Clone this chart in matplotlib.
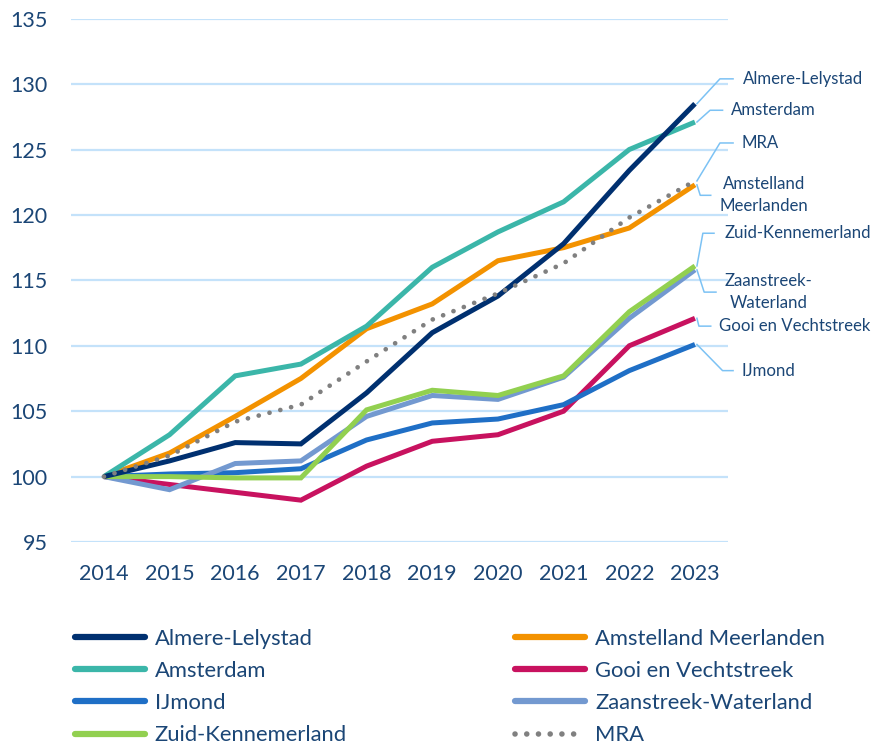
import numpy as np
import matplotlib.pyplot as plt
from matplotlib.lines import Line2D

plt.rcParams['font.family'] = ['Lato', 'DejaVu Sans']

years = [2014, 2015, 2016, 2017, 2018, 2019, 2020, 2021, 2022, 2023]

almere = [100, 101.2, 102.6, 102.5, 106.4, 111.0, 113.8, 117.8, 123.4, 128.5]
amsterdam = [100, 103.2, 107.7, 108.6, 111.5, 116.0, 118.7, 121.0, 125.0, 127.1]
amstelland = [100, 101.8, 104.6, 107.5, 111.3, 113.2, 116.5, 117.5, 119.0, 122.3]
gooi = [100, 99.4, 98.8, 98.2, 100.8, 102.7, 103.2, 105.0, 110.0, 112.1]
ijmond = [100, 100.2, 100.3, 100.6, 102.8, 104.1, 104.4, 105.5, 108.1, 110.1]
zaanstreek = [100, 99.0, 101.0, 101.2, 104.6, 106.2, 105.9, 107.6, 112.1, 115.8]
zuidk = [100, 100.0, 99.9, 99.9, 105.1, 106.6, 106.2, 107.7, 112.6, 116.1]
mra = [100, 101.6, 104.2, 105.5, 108.8, 112.0, 114.0, 116.3, 119.8, 122.6]

txt = '#1b4676'
lead = '#7cc2f4'
dots = (0, (0.01, 2.35))

fig = plt.figure(figsize=(8.79, 7.47), dpi=100)
ax = fig.add_axes([0.0808, 0.2744, 0.7472, 0.7006])

lw = 3.6
series = [
    ('Almere-Lelystad', almere, '#003070'),
    ('Amstelland Meerlanden', amstelland, '#f39200'),
    ('Amsterdam', amsterdam, '#3bb6a9'),
    ('Gooi en Vechtstreek', gooi, '#c8125f'),
    ('IJmond', ijmond, '#1f6fc6'),
    ('Zaanstreek-Waterland', zaanstreek, '#7399d0'),
    ('Zuid-Kennemerland', zuidk, '#92d050'),
]
colors = {s[0]: s[2] for s in series}
colors['MRA'] = '#808080'
# volgorde van tekenen zoals in origineel
order = ['Gooi en Vechtstreek', 'IJmond', 'Zaanstreek-Waterland', 'Zuid-Kennemerland',
         'Amstelland Meerlanden', 'Amsterdam', 'Almere-Lelystad']
lookup = {s[0]: s for s in series}
for name in order:
    n, vals, c = lookup[name]
    ax.plot(years, vals, color=c, lw=lw, solid_capstyle='butt', solid_joinstyle='miter')
ax.plot(years, mra, color=colors['MRA'], lw=3.4, linestyle=dots, dash_capstyle='round')

ax.set_xlim(2013.5, 2023.5)
ax.set_ylim(95, 135)
ax.set_yticks(range(95, 136, 5))
ax.set_xticks(years)
ax.grid(axis='y', color='#c4e2fa', lw=1.6)
ax.set_axisbelow(True)
for s in ax.spines.values():
    s.set_visible(False)
ax.tick_params(length=0, labelsize=15.5, labelcolor=txt)
ax.tick_params(axis='y', pad=17)
ax.tick_params(axis='x', pad=16)

# labels met aanwijslijnen rechts
labels = [
    ('Almere-Lelystad', 128.5, 0.38, 130.4, 0.58, 0.73),
    ('Amsterdam', 127.1, 0.23, 128.0, 0.42, 0.55),
    ('MRA', 122.6, 0.38, 125.5, 0.58, 0.71),
    ('Amstelland\nMeerlanden', 122.3, 0.08, 121.5, 0.24, 0.38),
    ('Zuid-Kennemerland', 116.1, 0.12, 118.6, 0.29, 0.45),
    ('Zaanstreek-\nWaterland', 115.8, 0.14, 114.1, 0.32, 0.45),
    ('Gooi en Vechtstreek', 112.1, 0.06, 111.5, 0.24, 0.36),
    ('IJmond', 110.1, 0.42, 108.1, 0.58, 0.71),
]
for text, yend, kx, ky, hx, tx in labels:
    ax.plot([2023.03, 2023 + kx, 2023 + hx], [yend, ky, ky], color=lead, lw=1.1,
            clip_on=False, zorder=5)
    ax.text(2023 + tx, ky, text, color=txt, fontsize=12.1, ha='left', va='center',
            multialignment='center', linespacing=1.45, clip_on=False)

col1 = ['Almere-Lelystad', 'Amsterdam', 'IJmond', 'Zuid-Kennemerland']
col2 = ['Amstelland Meerlanden', 'Gooi en Vechtstreek', 'Zaanstreek-Waterland', 'MRA']
for cols, xpos in [(col1, 0.085), (col2, 0.586)]:
    hs = []
    for n in cols:
        if n == 'MRA':
            hs.append(Line2D([], [], color=colors[n], lw=4, linestyle=(0, (0.01, 2.1)),
                             dash_capstyle='round'))
        else:
            hs.append(Line2D([], [], color=colors[n], lw=4.5, solid_capstyle='round'))
    leg = fig.legend(hs, cols, loc='upper left', bbox_to_anchor=(xpos, 0.158),
                     frameon=False, fontsize=15.8, handlelength=3.2, handletextpad=0.45,
                     labelspacing=0.55, borderaxespad=0, borderpad=0)
    for t in leg.get_texts():
        t.set_color(txt)

fig.savefig('out.png', dpi=100)
